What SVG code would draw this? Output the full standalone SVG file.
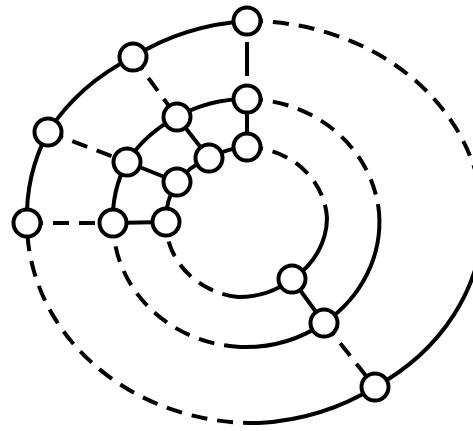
<svg xmlns="http://www.w3.org/2000/svg" width="473" height="431" viewBox="0 0 473 431">
<style>
.s{fill:none;stroke:#000;stroke-width:4;stroke-linecap:butt}
.d{fill:none;stroke:#000;stroke-width:4;stroke-dasharray:16 10}
.n{fill:#fff;stroke:#000;stroke-width:4}
</style>
<rect width="473" height="431" fill="#fff"/>
<g id="connectors">
<path class="s" d="M27,223 A227,201 0 0 1 48,132 A227,201 0 0 1 133,57 A227,201 0 0 1 247,21"/>
<path class="d" d="M247,21 A234,201 0 0 1 483,218"/>
<path class="s" d="M483,218 A234,201 0 0 1 375,387 A227,201 0 0 1 259,423"/>
<path class="d" d="M259,423 A227,201 0 0 1 27,223"/>
<path class="s" d="M113,223 A134,125 0 0 1 127,162 A134,125 0 0 1 177,117 A134,125 0 0 1 247,99"/>
<path class="d" d="M247,99 A134,125 0 0 1 379,212"/>
<path class="s" d="M379,212 A134,125 0 0 1 324,323 A134,125 0 0 1 240,347"/>
<path class="d" d="M240,347 A134,125 0 0 1 113,223"/>
<path class="s" d="M166,222 A82,75 0 0 1 177,182 A82,75 0 0 1 209,158 A82,75 0 0 1 247,147"/>
<path class="d" d="M247,147 A82,75 0 0 1 327,218"/>
<path class="s" d="M327,218 A82,75 0 0 1 292,279 A82,75 0 0 1 238,297"/>
<path class="d" d="M238,297 A82,75 0 0 1 166,222"/>
<path class="d" d="M247,42 L247,99" style="stroke-dasharray:34 30"/>
<path class="s" d="M247,99 L247,147"/>
<path class="d" d="M133,57 L177,117"/>
<path class="s" d="M177,117 L209,158"/>
<path class="d" d="M48,132 L127,162"/>
<path class="s" d="M127,162 L177,182"/>
<path class="d" d="M27,223 L113,223"/>
<path class="s" d="M113,223 L166,222"/>
<path class="s" d="M292,279 L324,323"/>
<path class="d" d="M324,323 L375,387"/>
</g>
<g id="A"><circle class="n" cx="247" cy="21" r="13.5"/></g>
<g id="B"><circle class="n" cx="133" cy="57" r="13.5"/></g>
<g id="C"><circle class="n" cx="48" cy="132" r="13.5"/></g>
<g id="D"><circle class="n" cx="27" cy="223" r="13.5"/></g>
<g id="E"><circle class="n" cx="247" cy="99" r="13.5"/></g>
<g id="F"><circle class="n" cx="177" cy="117" r="13.5"/></g>
<g id="G"><circle class="n" cx="247" cy="147" r="13.5"/></g>
<g id="H"><circle class="n" cx="209" cy="158" r="13.5"/></g>
<g id="I"><circle class="n" cx="127" cy="162" r="13.5"/></g>
<g id="J"><circle class="n" cx="177" cy="182" r="13.5"/></g>
<g id="K"><circle class="n" cx="113" cy="223" r="13.5"/></g>
<g id="L"><circle class="n" cx="166" cy="222" r="13.5"/></g>
<g id="M"><circle class="n" cx="292" cy="279" r="13.5"/></g>
<g id="N"><circle class="n" cx="324" cy="323" r="13.5"/></g>
<g id="O"><circle class="n" cx="375" cy="387" r="13.5"/></g>
</svg>
